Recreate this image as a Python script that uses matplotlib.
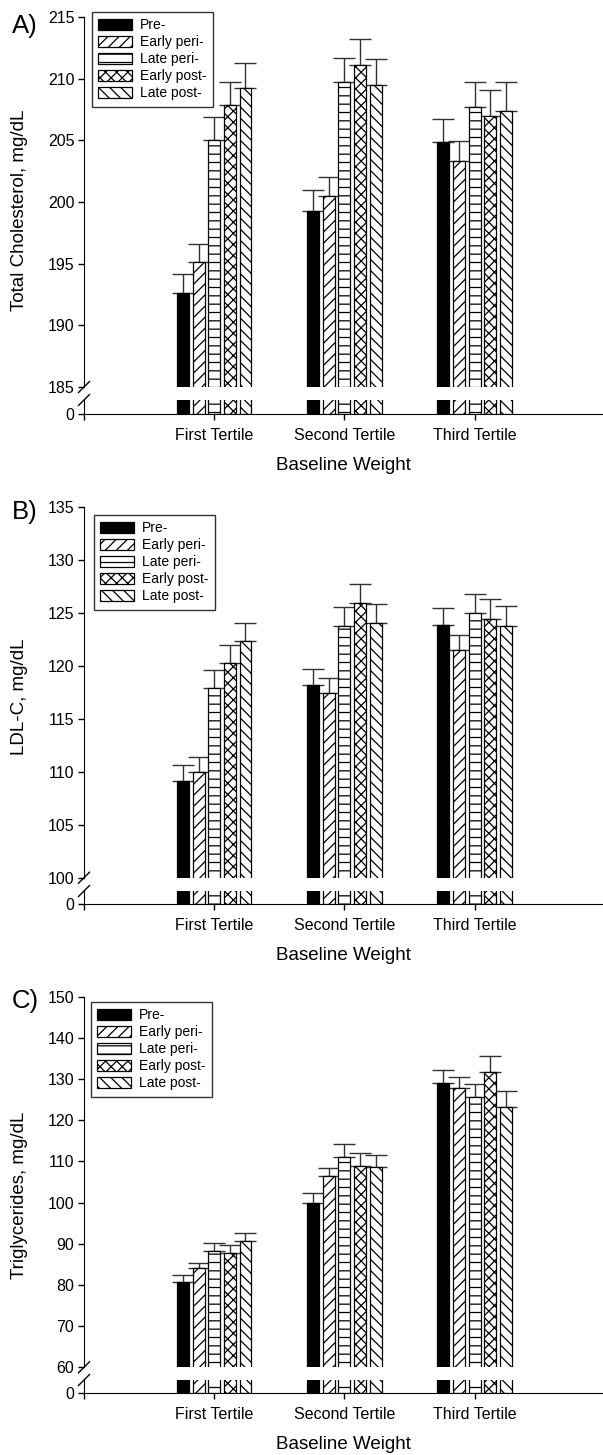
import numpy as np
import matplotlib
matplotlib.use("Agg")
import matplotlib.pyplot as plt
from matplotlib.lines import Line2D
from matplotlib.patches import Patch

plt.rcParams['font.family'] = ['Liberation Sans', 'DejaVu Sans']
plt.rcParams['hatch.linewidth'] = 0.9

tertiles = ["First Tertile", "Second Tertile", "Third Tertile"]
stages = ["Pre-", "Early peri-", "Late peri-", "Early post-", "Late post-"]
hatches = ["", "///", "--", "xxx", "\\\\\\"]
faces = ["black", "white", "white", "white", "white"]

# rows = stage, cols = tertile
chol_mean = [[192.6, 199.3, 204.9],
             [195.1, 200.5, 203.3],
             [205.0, 209.7, 207.7],
             [207.85, 211.1, 206.95],
             [209.25, 209.45, 207.4]]
chol_se = [[1.6, 1.7, 1.8],
           [1.5, 1.5, 1.65],
           [1.9, 2.0, 2.0],
           [1.9, 2.1, 2.15],
           [2.0, 2.15, 2.3]]

ldl_mean = [[109.1, 118.2, 123.8],
            [110.0, 117.4, 121.45],
            [117.9, 123.75, 124.95],
            [120.3, 125.9, 124.45],
            [122.3, 124.0, 123.7]]
ldl_se = [[1.5, 1.5, 1.6],
          [1.4, 1.4, 1.45],
          [1.7, 1.75, 1.8],
          [1.7, 1.8, 1.85],
          [1.7, 1.85, 1.9]]

tg_mean = [[80.7, 100.0, 129.0],
           [84.0, 106.5, 127.8],
           [88.2, 111.0, 125.6],
           [87.8, 108.8, 131.8],
           [90.6, 108.6, 123.1]]
tg_se = [[1.6, 2.3, 3.1],
         [1.4, 2.0, 2.6],
         [2.1, 3.3, 3.1],
         [2.0, 3.3, 3.9],
         [2.1, 3.0, 3.9]]

W, H = 603, 1455
AX_LEFT = 84


def rect(top, bottom):
    return [AX_LEFT / W, 1 - bottom / H, (W - AX_LEFT) / W, (bottom - top) / H]


def break_mark(fig, x, y):
    d = 5.5
    fig.add_artist(Line2D([(x - d) / W, (x + d) / W], [1 - (y + d) / H, 1 - (y - d) / H],
                          transform=fig.transFigure, color="black", lw=1))


def draw_panel(fig, mean, se, upper, lower, ylim, yticks, ylabel, letter,
               letter_y, label_y, legend_xy):
    mean = np.array(mean)
    se = np.array(se)
    x = np.arange(1, 4)
    offsets = (np.arange(5) - 2) * 0.12
    width = 0.092

    ax = fig.add_axes(rect(*upper))
    axl = fig.add_axes(rect(*lower))
    for a in (ax, axl):
        for i in range(5):
            a.bar(x + offsets[i], mean[i], width, color=faces[i], edgecolor="black",
                  hatch=hatches[i], linewidth=0.9, zorder=2)
        a.set_xlim(0, 3.985)
        a.spines["top"].set_visible(False)
        a.spines["right"].set_visible(False)
        a.tick_params(direction="out", length=4, width=1, labelsize=11.5, pad=3)

    for i in range(5):
        ax.errorbar(x + offsets[i], mean[i], yerr=[np.zeros(3), se[i]], fmt="none",
                    ecolor="#333333", elinewidth=1, capsize=8, capthick=1, zorder=1)

    ax.set_ylim(*ylim)
    ax.set_yticks(yticks)
    ax.spines["bottom"].set_visible(False)
    ax.set_xticks([])

    axl.set_ylim(0, 1)
    axl.set_yticks([0])
    axl.set_xticks([0, 1, 2, 3])
    axl.set_xticklabels([""] + tertiles)
    axl.tick_params(axis="x", pad=6)
    axl.set_xlabel("Baseline Weight", fontsize=13.5, labelpad=10)

    break_mark(fig, AX_LEFT, upper[1])
    break_mark(fig, AX_LEFT, lower[0])

    fig.text(12 / W, 1 - letter_y / H, letter, fontsize=18.5, va="center", ha="left")
    fig.text(20 / W, 1 - label_y / H, ylabel, fontsize=13.5, rotation=90,
             va="center", ha="center")

    handles = [Patch(facecolor=faces[i], edgecolor="black", hatch=hatches[i], linewidth=0.9)
               for i in range(5)]
    fig.legend(handles, stages, loc="upper left",
               bbox_to_anchor=(legend_xy[0] / W, 1 - legend_xy[1] / H),
               bbox_transform=fig.transFigure, fontsize=10, frameon=True,
               fancybox=False, edgecolor="black", borderaxespad=0,
               handlelength=2.4, handleheight=0.8, handletextpad=0.6,
               labelspacing=0.22, borderpad=0.45).get_frame().set_linewidth(1)


fig = plt.figure(figsize=(6.03, 14.55), dpi=100)

draw_panel(fig, chol_mean, chol_se, (17, 387), (400, 414), (185, 215),
           np.arange(185, 216, 5), "Total Cholesterol, mg/dL", "A)", 26, 210, (92, 12))
draw_panel(fig, ldl_mean, ldl_se, (506.7, 877.7), (891, 904.3), (100, 135),
           np.arange(100, 136, 5), "LDL-C, mg/dL", "B)", 512, 697, (94, 515))
draw_panel(fig, tg_mean, tg_se, (996.7, 1367.3), (1380, 1393.3), (60, 150),
           np.arange(60, 151, 10), "Triglycerides, mg/dL", "C)", 1001, 1195, (91, 1002))

fig.savefig("out.png", dpi=100)
